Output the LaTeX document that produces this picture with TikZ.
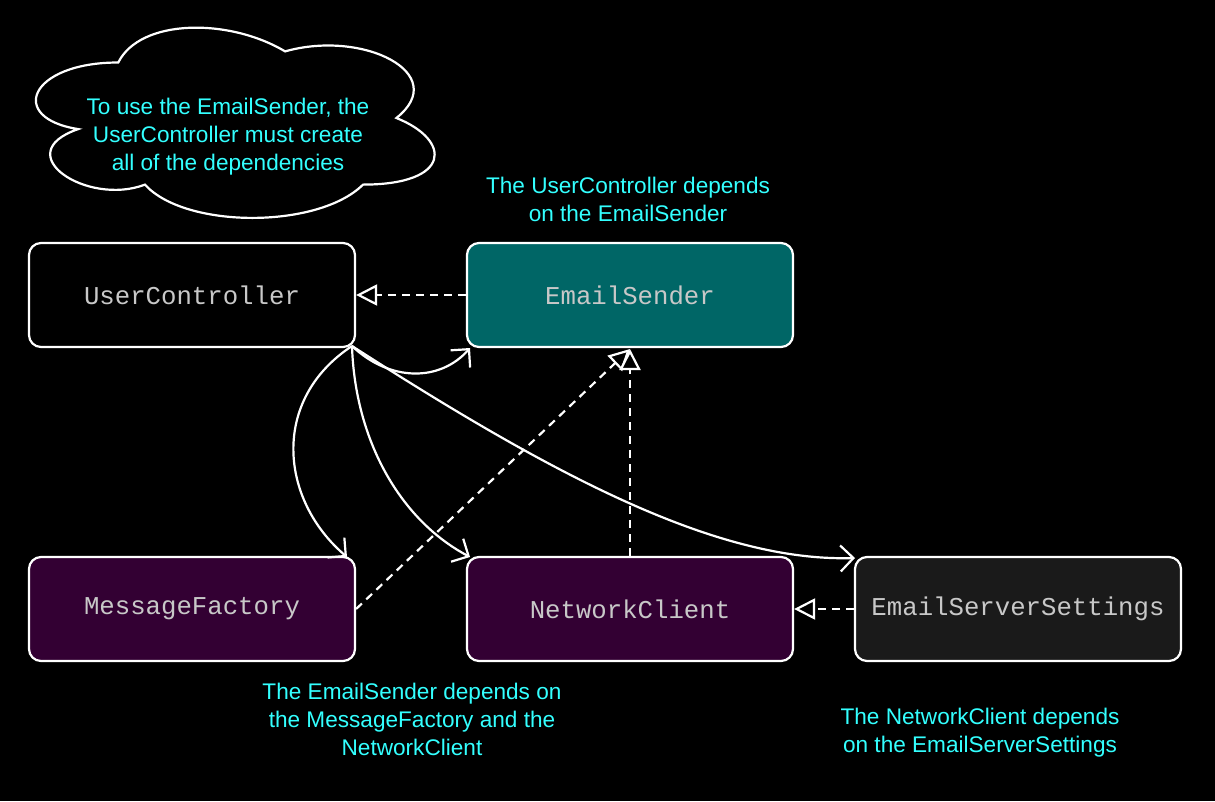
\documentclass[tikz,border=0pt]{standalone}
\usepackage{fontspec}
\setmainfont{Liberation Sans}
\newfontfamily\boxfont{Liberation Mono}
\usetikzlibrary{arrows.meta}
\definecolor{teal1}{HTML}{006666}
\definecolor{purp}{HTML}{330033}
\definecolor{dgray}{HTML}{1A1A1A}
\definecolor{cyantxt}{HTML}{33FFFF}
\definecolor{boxtxt}{HTML}{C8C8C8}
\begin{document}
\begin{tikzpicture}[x=1pt,y=-1pt,
  box/.style={draw=white, line width=2.2pt, rounded corners=12pt, minimum width=326pt, minimum height=104pt,
    font=\boxfont\fontsize{25.7}{30}\selectfont, text=boxtxt, inner sep=0pt},
  note/.style={text=cyantxt, align=center, font=\fontsize{22.6}{28}\selectfont},
  dep/.style={draw=white, line width=2.2pt, dash pattern=on 8pt off 6pt,
    -{Triangle[open, length=21pt, width=21pt, line width=2.2pt, fill=black]}},
  use/.style={draw=white, line width=2.2pt,
    -{Straight Barb[length=13pt, width=26pt, line width=2.2pt]}}]
\fill[black] (0,0) rectangle (1215,801);
\useasboundingbox (0,0) rectangle (1215,801);

\draw[white, line width=2.2pt, fill=black]
  (118.25,62.5) .. controls (29.25,62.5) and (7,118) .. (78.2,129.1)
  .. controls (7,153.5) and (87.1,206.8) .. (144.95,184.6)
  .. controls (185,229) and (318.5,229) .. (363,184.6)
  .. controls (452,184.6) and (452,140.2) .. (396.4,118)
  .. controls (452,73.6) and (363,29.2) .. (285.1,51.4)
  .. controls (229.5,18.1) and (140.5,18.1) .. (118.25,62.5) -- cycle;
\node[note] (cloudtxt) at (228,137) {To use the EmailSender, the\\UserController must create\\all of the dependencies};

\node[box, fill=black] (uc) at (192,295) {UserController};
\node[box, fill=teal1] (es) at (630,295) {EmailSender};
\node[box, fill=purp] (mf) at (192,609) {MessageFactory};
\node[box, fill=purp] (nc) at (630,609) {NetworkClient};
\node[box, fill=dgray] (ess) at (1018,609) {EmailServerSettings};

\node[note] (n1) at (628,199) {The UserController depends\\on the EmailSender};
\node[note] (n2) at (412,719) {The EmailSender depends on\\the MessageFactory and the\\NetworkClient};
\node[note] (n3) at (980,733) {The NetworkClient depends\\on the EmailServerSettings};

\coordinate (tip) at (630,349);
\draw[dep] (es.west) -- (uc.east);
\draw[dep] (mf.east) -- (tip);
\draw[dep] (nc.north) -- (tip);
\draw[dep] (ess.west) -- (nc.east);

\coordinate (src) at (352,346);
\draw[use] (src) .. controls (390,382) and (440,382) .. (470,348);
\draw[use] (src) .. controls (270,400) and (280,500) .. (347,557);
\draw[use] (src) .. controls (355,440) and (400,520) .. (470,557);
\draw[use] (src) .. controls (560,480) and (720,562) .. (855,558);
\end{tikzpicture}
\end{document}
